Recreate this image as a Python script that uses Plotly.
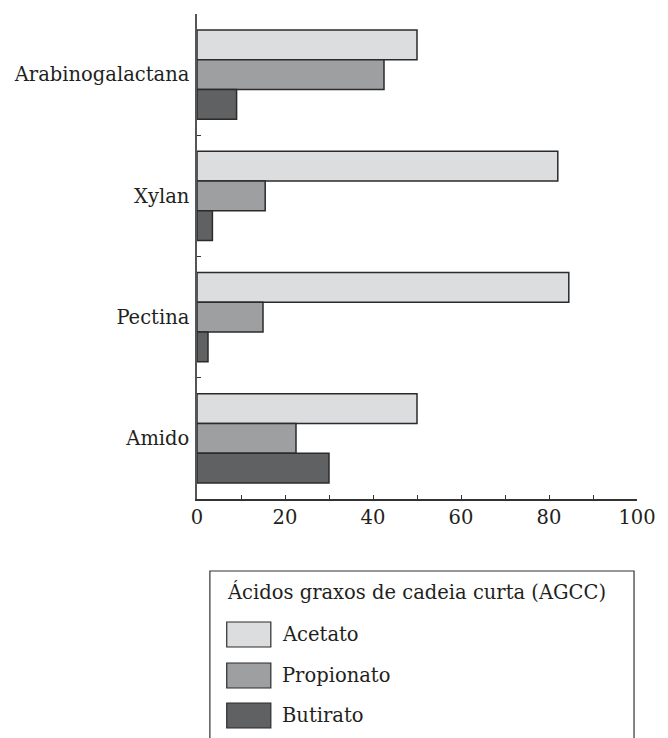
import plotly.graph_objects as go

categories = ["Arabinogalactana", "Xylan", "Pectina", "Amido"]
acetato = [50, 82, 84.5, 50]
propionato = [42.5, 15.5, 15, 22.5]
butirato = [9, 3.5, 2.5, 30]
series_names = ["Acetato", "Propionato", "Butirato"]
series_colors = ["#dcdddf", "#9e9fa1", "#606163"]
x_ticks = [0, 20, 40, 60, 80, 100]
legend_title = "Ácidos graxos de cadeia curta (AGCC)"

W, H = 668, 738
L, R, T, B = 197, 27, 14, 239
pw, ph = W - L - R, H - T - B

def px(x):
    return (x - L) / pw

def py(y):
    return (H - B - y) / ph

FONT = "DejaVu Serif"
FS = 19.5
TXT = "#231f20"

fig = go.Figure()
for name, vals, col in zip(series_names, [acetato, propionato, butirato], series_colors):
    fig.add_trace(go.Bar(
        y=categories, x=vals, name=name, orientation="h",
        marker=dict(color=col, line=dict(color="#2b2b2b", width=1.5)),
        showlegend=False,
    ))

fig.update_layout(
    width=W, height=H,
    margin=dict(l=L, r=R, t=T, b=B),
    paper_bgcolor="white", plot_bgcolor="white",
    barmode="group", bargap=0.265, bargroupgap=0,
    font=dict(family=FONT, size=FS, color=TXT),
)
fig.update_xaxes(
    range=[0, 100], tickvals=x_ticks, ticktext=[str(v) for v in x_ticks],
    showgrid=False, zeroline=False, showline=True, linecolor="#333", linewidth=1.5,
    ticks="inside", ticklen=4, tickcolor="#333", tickwidth=1,
    minor=dict(dtick=10, tick0=0, ticks="inside", ticklen=4, tickcolor="#333", showgrid=False),
    tickfont=dict(family=FONT, size=FS, color=TXT),
)
fig.update_yaxes(
    categoryorder="array", categoryarray=categories,
    range=[3.5, -0.5],
    showgrid=False, zeroline=False, showline=True, linecolor="#555", linewidth=1.5,
    ticks="inside", tickson="boundaries", ticklen=4, tickcolor="#333", tickwidth=1,
    ticklabelstandoff=2,
    tickfont=dict(family=FONT, size=FS, color=TXT),
)

# custom legend box
shapes = [dict(type="rect", xref="paper", yref="paper",
               x0=px(210), x1=px(638), y0=py(750), y1=py(571),
               line=dict(color="#333", width=1.2), fillcolor="rgba(0,0,0,0)")]
annotations = [dict(xref="paper", yref="paper", x=px(225), y=py(592),
                    text=legend_title, showarrow=False, xanchor="left", yanchor="middle",
                    font=dict(family=FONT, size=FS, color=TXT))]
tops = [622, 663, 703]
for name, col, t in zip(series_names, series_colors, tops):
    shapes.append(dict(type="rect", xref="paper", yref="paper",
                       x0=px(227), x1=px(271.5), y0=py(t + 25), y1=py(t),
                       line=dict(color="#2b2b2b", width=1.2), fillcolor=col))
    annotations.append(dict(xref="paper", yref="paper", x=px(281), y=py(t + 12.5),
                            text=name, showarrow=False, xanchor="left", yanchor="middle",
                            font=dict(family=FONT, size=FS, color=TXT)))
fig.update_layout(shapes=shapes, annotations=annotations)

fig.write_html(
    "out.html",
    config={"displayModeBar": False},
    post_script="document.body.style.margin='0';document.body.style.padding='0';"
                "document.body.style.overflow='hidden';document.documentElement.style.overflow='hidden';",
)
